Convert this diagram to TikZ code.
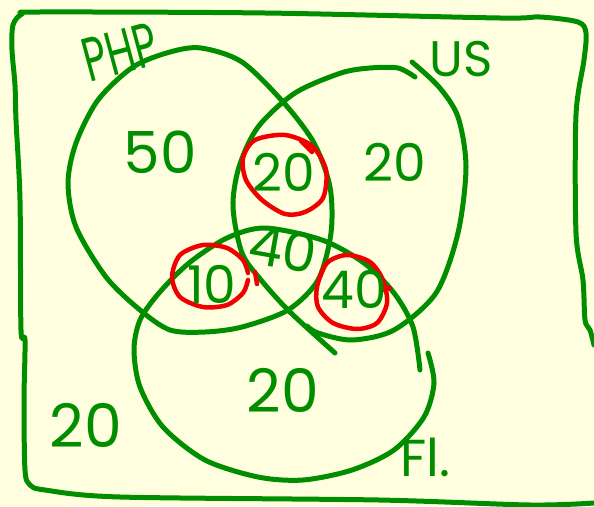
\documentclass[tikz,border=0pt]{standalone}
\usepackage{fontspec}
\setmainfont{Poppins}
\definecolor{bg}{RGB}{255,255,223}
\definecolor{pen}{RGB}{0,142,0}
\definecolor{ink}{RGB}{240,0,0}
\tikzset{
  gline/.style={draw=pen,line width=5pt,line cap=round,line join=round},
  rline/.style={draw=ink,line width=4.5pt,line cap=round,line join=round},
  lbl/.style={text=pen,inner sep=0pt,font=\fontsize{#1}{#1}\selectfont},
  lbl/.default=56
}
\begin{document}
\begin{tikzpicture}[x=1pt,y=-1pt]
\useasboundingbox (0,0) rectangle (594,506);
\fill[bg] (0,0) rectangle (594,506);
% frame
\draw[gline] plot[smooth] coordinates {(594,503) (530,505) (379,500) (120,497) (45,490) (30,485) (25,470) (24,400) (25,340) (21,330) (20,200) (16,120) (15,85) (12,50) (13,25) (22,14) (40,12) (265,13) (500,18) (540,17) (578,22) (586,33) (584,60) (576,115) (576,233) (583,280) (585,320) (590,330) (594,345)};
% PHP set
\draw[gline] plot[smooth cycle] coordinates {(201,48) (242,62) (284,103) (314,143) (330,187) (331,233) (318,280) (288,310) (242,327) (205,332) (170,330) (140,310) (106,277) (76,227) (68,183) (76,143) (98,100) (133,67) (170,52)};
% US set
\draw[gline] plot[smooth] coordinates {(415,77) (398,68) (370,68) (341,73) (295,93) (258,127) (239,167) (233,207) (242,253) (261,280) (290,312) (335,353)};
\draw[gline] plot[smooth] coordinates {(412,62) (439,87) (458,117) (466,167) (458,233) (436,293) (394,330) (352,340) (318,333) (307,326)};
% Fl set
\draw[gline] plot[smooth] coordinates {(428,353) (434,383) (424,417) (394,450) (352,470) (303,480) (258,477) (205,460) (163,427) (140,387) (134,350) (140,320) (159,293) (189,263) (227,238) (265,228) (322,240) (364,263) (394,293) (413,327) (420,370)};
% red circles
\draw[rline] plot[smooth cycle] coordinates {(255,140) (285,135) (312,146) (326,170) (323,198) (305,212) (285,214) (262,200) (246,180) (243,158)};
\draw[rline] (301,141) -- (312,152);
\draw[rline] plot[smooth] coordinates {(248,273) (243,260) (227,248) (203,245) (180,255) (172,277) (180,297) (203,307) (227,305) (243,293) (248,280)};
\draw[rline] (255,272) -- (257,284);
\draw[rline] plot[smooth cycle] coordinates {(317,287) (327,263) (347,255) (370,262) (383,280) (387,303) (377,323) (357,329) (333,323) (318,307)};
\draw[rline] (383,290) -- (390,288);
% labels
\node[lbl=62,rotate=15,xscale=0.65] (php) at (120,52) {PHP};
\node[lbl=50] (us) at (461,59) {US};
\node[lbl=52] (fl) at (425,457) {Fl.};
\node[lbl=58] (n50) at (160,152) {50};
\node[lbl=52] (nus) at (395,162) {20};
\node[lbl=52] (nphpus) at (284,172) {20};
\node[lbl=54,rotate=-10] (nall) at (283,249) {40};
\node[lbl=52] (nphpfl) at (212,284) {10};
\node[lbl=52] (nusfl) at (354,289) {40};
\node[lbl=60] (nfl) at (283,390) {20};
\node[lbl=60] (nout) at (86,425) {20};
\end{tikzpicture}
\end{document}
